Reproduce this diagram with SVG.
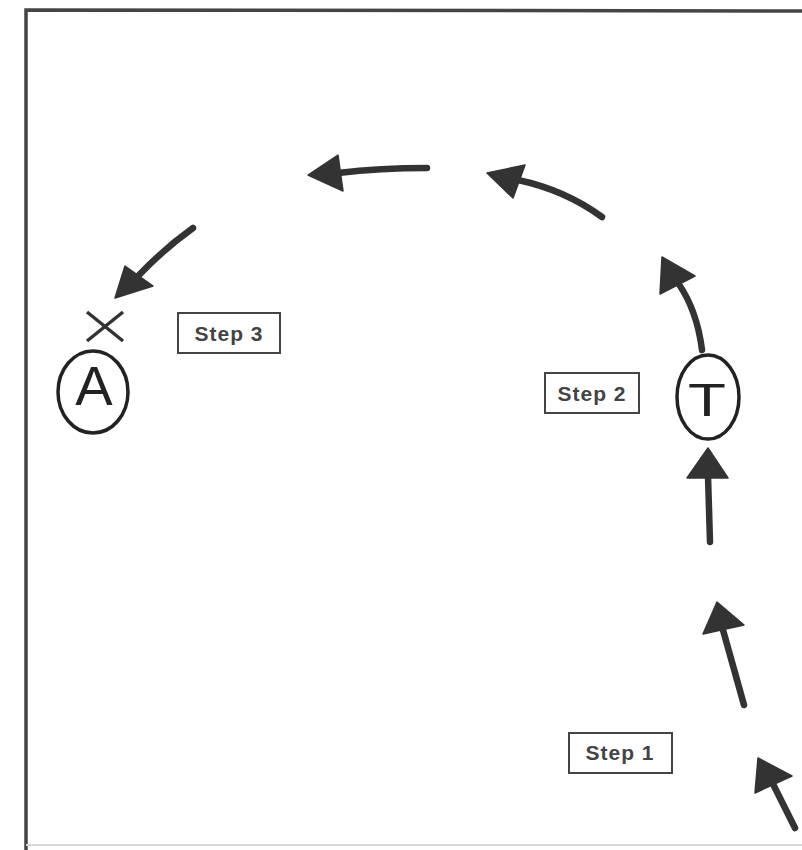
<svg xmlns="http://www.w3.org/2000/svg" width="802" height="850" viewBox="0 0 802 850">
<style>
.frame{fill:none;stroke:#444;stroke-width:3.5}
.faint{fill:none;stroke:#d8d8d8;stroke-width:2}
.shaft{fill:none;stroke:#333;stroke-width:6.5;stroke-linecap:round}
.head{fill:#333;stroke:#333;stroke-width:1.5;stroke-linejoin:round}
.oval{fill:none;stroke:#222;stroke-width:3.5}
.box{fill:#fff;stroke:#444;stroke-width:2}
.lbl{font-family:"Liberation Sans",Arial,sans-serif;font-weight:bold;font-size:21px;fill:#444;text-anchor:middle;letter-spacing:1px}
.big{font-family:"Liberation Sans",Arial,sans-serif;fill:#222;text-anchor:middle}
.x{fill:none;stroke:#333;stroke-width:3.5}
</style>
<rect width="802" height="850" fill="#fff"/>
<g id="frame">
<polyline class="frame" points="26,850 26,10 802,11"/>
<line class="faint" x1="26" y1="845" x2="802" y2="845"/>
</g>
<g id="connectors">
<path class="shaft" d="M795,828 L773,784"/>
<polygon class="head" points="758,758 755,793 792,776"/>
<path class="shaft" d="M744,705 L723,630"/>
<polygon class="head" points="717,602 703,634 744,625"/>
<path class="shaft" d="M710,542 L708,476"/>
<polygon class="head" points="708,448 687,478 728,478"/>
<path class="shaft" d="M702,350 Q697,310 678,283"/>
<polygon class="head" points="662,257 660,294 695,276"/>
<path class="shaft" d="M602,217 Q565,190 518,180"/>
<polygon class="head" points="487,173 513,198 525,165"/>
<path class="shaft" d="M427,168 Q380,168 338,173"/>
<polygon class="head" points="308,175 343,191 338,155"/>
<path class="shaft" d="M193,228 Q165,248 139,275"/>
<polygon class="head" points="115,298 125,266 153,286"/>
</g>
<g id="node-X">
<line class="x" x1="87" y1="312" x2="123" y2="341"/>
<line class="x" x1="123" y1="312" x2="87" y2="341"/>
</g>
<g id="node-A">
<ellipse class="oval" cx="93" cy="392" rx="35" ry="41"/>
<text class="big" x="94" y="405" font-size="56">A</text>
</g>
<g id="node-T">
<ellipse class="oval" cx="708" cy="397" rx="31" ry="42"/>
<text class="big" x="0" y="416" font-size="46" transform="translate(707 0) scale(1.35 1)">T</text>
</g>
<g id="step1">
<rect class="box" x="569" y="733" width="103" height="40"/>
<text class="lbl" x="620" y="760">Step 1</text>
</g>
<g id="step2">
<rect class="box" x="545" y="373" width="94" height="40"/>
<text class="lbl" x="592" y="401">Step 2</text>
</g>
<g id="step3">
<rect class="box" x="178" y="313" width="102" height="40"/>
<text class="lbl" x="229" y="341">Step 3</text>
</g>
</svg>
